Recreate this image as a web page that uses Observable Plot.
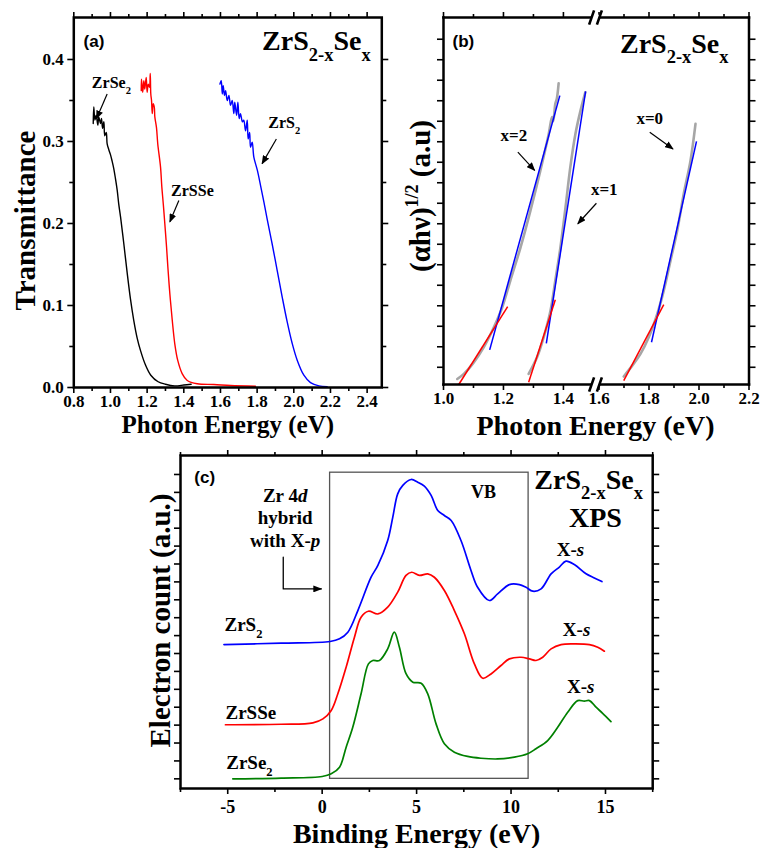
<!DOCTYPE html>
<html><head><meta charset="utf-8">
<script src="https://cdn.jsdelivr.net/npm/d3@7"></script>
<script src="https://cdn.jsdelivr.net/npm/@observablehq/plot@0.6"></script>
<style>
body{margin:0;background:#fff;}
#wrap{position:relative;width:760px;height:848px;overflow:hidden;background:#fff;}
#wrap svg{position:absolute;overflow:visible;}
#wrap svg text, #wrap svg tspan{font-family:"Liberation Serif","Times New Roman",serif !important;font-weight:bold !important;}
#wrap svg .sanslbl text{font-family:"Liberation Sans",Arial,sans-serif !important;}
</style></head><body><div id="wrap"></div>
<script>
// ---------- Panel (a): transmittance ----------
const aSe2E = [0.906,0.909,0.915,0.922,0.931,0.936,0.946,0.951,0.957,0.964,0.969,0.977,0.982,0.991,1.000,1.009,1.018,1.027,1.037,1.045,1.055,1.073,1.091,1.109,1.127,1.146,1.164,1.19,1.22,1.26,1.3,1.35,1.4,1.44];
const aSe2T = [0.322,0.342,0.326,0.332,0.320,0.330,0.322,0.328,0.316,0.324,0.307,0.311,0.297,0.290,0.284,0.276,0.267,0.255,0.240,0.224,0.208,0.175,0.14,0.108,0.082,0.06,0.045,0.028,0.015,0.007,0.004,0.002,0.003,0.004];
const aSSeE = [1.168,1.169,1.176,1.182,1.187,1.195,1.200,1.206,1.213,1.217,1.220,1.224,1.228,1.233,1.239,1.242,1.251,1.258,1.273,1.280,1.288,1.295,1.306,1.313,1.324,1.337,1.351,1.367,1.391,1.419,1.473,1.564,1.655,1.791];
const aSSeT = [0.362,0.376,0.360,0.374,0.364,0.378,0.360,0.370,0.366,0.383,0.358,0.350,0.334,0.346,0.342,0.330,0.317,0.297,0.269,0.245,0.224,0.204,0.171,0.147,0.114,0.082,0.053,0.033,0.017,0.0085,0.0045,0.0037,0.0024,0.0016];
const aS2E = [1.597,1.604,1.610,1.615,1.622,1.628,1.637,1.646,1.655,1.664,1.673,1.678,1.688,1.695,1.702,1.709,1.720,1.727,1.737,1.746,1.751,1.759,1.764,1.773,1.782,1.801,1.819,1.837,1.855,1.882,1.910,1.937,1.964,1.991,2.019,2.055,2.091,2.137,2.182];
const aS2T = [0.370,0.374,0.358,0.368,0.356,0.362,0.350,0.356,0.344,0.350,0.334,0.348,0.332,0.348,0.328,0.334,0.324,0.326,0.313,0.326,0.303,0.311,0.293,0.299,0.281,0.265,0.246,0.226,0.205,0.175,0.142,0.11,0.08,0.054,0.033,0.015,0.006,0.002,0.001];
const aLabels = ["ZrSe_{2}", "ZrSSe", "ZrS_{2}"];
const aLabelE = [1.005, 1.447, 1.948];
const aLabelT = [0.365, 0.233, 0.316];
const aArrE1 = [0.982, 1.373, 1.905], aArrT1 = [0.358, 0.228, 0.303];
const aArrE2 = [0.924, 1.324, 1.827], aArrT2 = [0.328, 0.202, 0.273];
const aTicksX = [0.8,1.0,1.2,1.4,1.6,1.8,2.0,2.2,2.4];
const aMinorX = [0.9,1.1,1.3,1.5,1.7,1.9,2.1,2.3];
const aTicksY = [0,0.1,0.2,0.3,0.4];
const aMinorY = [0.05,0.15,0.25,0.35];

// ---------- Panel (b): Tauc plots (broken x axis) ----------
const bGray2E = [1.046,1.068,1.101,1.134,1.168,1.196,1.223,1.257,1.29,1.323,1.351,1.362,1.366,1.373,1.378,1.384];
const bGray2U = [-0.57,-0.32,0.24,0.97,1.95,2.93,4.23,5.85,7.64,9.59,11.38,12.2,12.0,12.85,13.1,13.85];
const bGray1E = [1.284,1.312,1.334,1.357,1.373,1.39,1.407,1.423,1.44,1.457,1.473];
const bGray1U = [-0.32,0.49,1.46,2.77,4.23,5.85,7.80,9.76,11.38,12.52,13.41];
const bGray0E = [1.699,1.733,1.766,1.799,1.833,1.859,1.886,1.913,1.939,1.966,1.986];
const bGray0U = [-0.45,0.08,0.65,1.46,2.6,3.74,5.2,6.67,8.46,10.08,11.87];
const bBlueE1 = [1.154,1.343], bBlueU1 = [0.85,1.17];
const bBlueE2 = [1.388,1.474], bBlueU2 = [13.25,13.46];
const bBlue0 = [1.81, 1.22, 1.99, 11.02];
const bRedE1 = [1.051,1.284], bRedU1 = [-0.84,-0.73];
const bRedE2 = [1.214,1.373], bRedU2 = [2.96,3.29];
const bRed0 = [1.699, -0.65, 1.859, 3.06];
const bLabels = ["x=2", "x=1", "x=0"];
const bLabelE = [1.235, 1.621, 1.803], bLabelU = [11.06, 8.38, 11.87];
const bArrE1 = [1.248, 1.510], bArrU1 = [10.49, 8.0];
const bArrE2 = [1.304, 1.448], bArrU2 = [9.6, 7.0];
const bArr0 = [1.803, 11.46, 1.896, 10.65];
const bDomL = [1.0, 1.507], bDomR = [1.586, 2.2], bDomY = [-0.84, 17.06];
const bTicksXL = [1.0,1.2,1.4], bMinorXL = [1.1,1.3];
const bTicksXR = [1.6,1.8,2.0,2.2], bMinorXR = [1.7,1.9,2.1];
const bTicksY = d3.range(0, 17);

// ---------- Panel (c): XPS valence band ----------
const cS2E = [-5.2,-2.17,0.42,0.92,1.36,1.89,2.59,2.95,3.47,3.74,4.0,4.27,4.71,5.06,5.41,5.77,6.12,6.47,6.83,7.35,7.88,8.23,8.85,9.29,9.91,10.44,10.79,11.15,11.59,12.12,12.56,12.91,13.35,13.97,14.41,14.81];
const cS2Y = [7.50,7.58,7.67,7.82,8.19,9.40,11.26,11.92,13.31,14.62,15.92,16.39,16.72,16.57,16.35,15.83,14.99,14.71,14.43,13.31,11.64,10.70,9.96,10.33,10.85,10.85,10.70,10.48,10.61,11.45,11.83,12.16,11.97,11.45,11.22,11.02];
const cSSeE = [-5.12,-2.17,-0.49,0.04,0.48,0.83,1.27,1.71,2.06,2.45,2.95,3.47,4.0,4.44,4.74,5.15,5.59,5.94,6.47,7.0,7.53,8.06,8.5,8.94,9.47,9.91,10.53,10.97,11.32,11.68,12.12,12.65,13.35,14.15,14.59,14.94];
const cSSeY = [3.02,3.05,3.13,3.35,3.82,4.75,6.24,7.91,9.03,9.36,9.21,9.59,10.43,11.36,11.54,11.36,11.45,11.26,10.52,9.40,8.10,6.42,5.62,5.86,6.33,6.70,6.79,6.70,6.61,6.79,7.26,7.50,7.54,7.50,7.35,7.13];
const cSe2E = [-4.73,-2.17,0.0,0.48,0.92,1.27,1.62,2.06,2.45,2.68,3.03,3.47,3.82,4.09,4.44,4.80,5.24,5.59,6.03,6.47,7.0,7.7,8.41,9.29,10.18,10.88,11.32,11.94,12.47,13.0,13.53,13.88,14.15,14.5,14.85,15.29];
const cSe2Y = [0.0,0.04,0.13,0.28,0.65,1.77,2.88,4.75,6.42,6.61,6.61,7.26,8.19,7.35,5.87,5.40,5.34,4.75,3.07,1.96,1.49,1.25,1.15,1.11,1.21,1.40,1.68,2.14,2.88,3.72,4.37,4.34,4.37,4.0,3.66,3.20];
const cSampleLabels = ["ZrS_{2}", "ZrSSe", "ZrSe_{2}"];
const cSampleE = [-5.17, -5.12, -5.08], cSampleY = [8.25, 3.35, 0.56];
const cXsE = [13.15, 13.47, 13.69], cXsY = [12.42, 8.0, 4.82];
const cNoteLines = ["Zr 4*d*", "hybrid", "with X-*p*"];
const cNoteE = -1.96, cNoteY = [15.49, 14.21, 12.94];
const cElbowE = [-2.06, -2.06, -0.05], cElbowY = [12.38, 10.61, 10.61];
const cBoxE = [0.42, 10.93], cBoxY = [0.0, 17.1];
const cTicksX = [-5,0,5,10,15];
const cMinorX = [-7.5,-2.5,2.5,7.5,12.5,17.5];
const cTicksY = d3.range(0, 18);

// ---------- helpers ----------
const serif = "Liberation Serif, Times New Roman, serif";
const sans = "Liberation Sans, Arial, sans-serif";
const tbl = (E, Y) => E.map((e, i) => ({E: e, Y: Y[i]}));
const seg = (E1, Y1, E2, Y2) => E1.map((e, i) => ({x1: e, y1: Y1[i], x2: E2[i], y2: Y2[i]}));
const none = () => "";
const SW = 1.6;
const f1 = d3.format(".1f");

// axis-break glyphs as custom symbols
const slashSymbol = {draw(c, size) { const s = Math.sqrt(size) / 2;
  c.moveTo(-s * 0.9, s); c.lineTo(-s * 0.2, -s); c.moveTo(s * 0.2, s); c.lineTo(s * 0.9, -s); }};
const gapSymbol = {draw(c, size) { const s = Math.sqrt(size) / 2;
  c.moveTo(-s * 0.7, s * 0.4); c.lineTo(-s * 0.3, -s * 0.4); c.lineTo(s * 0.7, -s * 0.4); c.lineTo(s * 0.3, s * 0.4); c.closePath(); }};

function xTicks(major, minor, fmt, fs, pad) {
  return [
    Plot.axisX(major, {anchor: "bottom", tickSize: 6, tickPadding: pad, tickFormat: fmt, fontSize: fs, fontWeight: "bold", fontFamily: serif, strokeWidth: SW, label: null}),
    Plot.axisX(minor, {anchor: "bottom", tickSize: 4, tickFormat: none, strokeWidth: SW, label: null}),
    Plot.axisX(major, {anchor: "top", tickSize: 6, tickFormat: none, strokeWidth: SW, label: null}),
    Plot.axisX(minor, {anchor: "top", tickSize: 4, tickFormat: none, strokeWidth: SW, label: null})
  ];
}
function yTicks(major, minor, fmt, fs, pad, sides = ["left", "right"]) {
  const m = [];
  for (const side of sides) {
    m.push(Plot.axisY(major, {anchor: side, tickSize: 6, tickPadding: pad, tickFormat: side === "left" && fmt ? fmt : none, fontSize: fs, fontWeight: "bold", fontFamily: serif, strokeWidth: SW, label: null}));
    if (minor) m.push(Plot.axisY(minor, {anchor: side, tickSize: 4, tickFormat: none, strokeWidth: SW, label: null}));
  }
  return m;
}
function richify(svg) {
  const ns = "http://www.w3.org/2000/svg";
  svg.querySelectorAll("text").forEach(el => {
    if (el.children.length) return;
    const s = el.textContent;
    if (!/(_\{|\^\{|\*)/.test(s)) return;
    const fs = parseFloat(getComputedStyle(el).fontSize) || 16;
    const parts = s.split(/(_\{[^}]*\}|\^\{[^}]*\}|\*[^*]+\*)/).filter(p => p !== "");
    el.textContent = "";
    let shift = 0;
    for (const p of parts) {
      const t = document.createElementNS(ns, "tspan");
      let target = 0, txt = p, size = null, italic = false;
      if (p.startsWith("_{")) { target = 0.36 * fs; txt = p.slice(2, -1); size = 0.66 * fs; }
      else if (p.startsWith("^{")) { target = -0.42 * fs; txt = p.slice(2, -1); size = 0.62 * fs; }
      else if (p.startsWith("*")) { txt = p.slice(1, -1); italic = true; }
      const dy = target - shift;
      if (Math.abs(dy) > 0.01) t.setAttribute("dy", dy);
      shift = target;
      if (size) t.setAttribute("font-size", size);
      if (italic) t.setAttribute("font-style", "italic");
      t.textContent = txt;
      el.appendChild(t);
    }
  });
}
function arrowheads(svg, id) {
  const ns = "http://www.w3.org/2000/svg";
  const defs = document.createElementNS(ns, "defs");
  defs.innerHTML = `<marker id="${id}" viewBox="0 0 10 8" refX="9" refY="4" markerWidth="9" markerHeight="7" markerUnits="userSpaceOnUse" orient="auto"><path d="M0,0L10,4L0,8z" fill="black"/></marker>`;
  svg.insertBefore(defs, svg.firstChild);
  svg.querySelectorAll(".farrow path, .farrow line").forEach(p => p.setAttribute("marker-end", `url(#${id})`));
}
const bt = (o) => Object.assign({fontWeight: "bold", fontFamily: serif}, o);
const style = {fontFamily: serif, background: "transparent", overflow: "visible"};
const arrowLink = (data) => Plot.link(data, {x1: "x1", y1: "y1", x2: "x2", y2: "y2", stroke: "black", strokeWidth: 1.2, className: "farrow"});

// ---------- Panel (a) ----------
const svgA = Plot.plot({
  width: 384, height: 440,
  marginLeft: 73.3, marginRight: 2.7, marginTop: 17, marginBottom: 53,
  x: {domain: [0.8, 2.48], label: null},
  y: {domain: [0, 0.4512], label: null},
  style,
  marks: [
    ...xTicks(aTicksX, aMinorX, f1, 17, 1),
    ...yTicks(aTicksY, aMinorY, f1, 17, 4),
    Plot.line(tbl(aSe2E, aSe2T), {x: "E", y: "Y", stroke: "black", strokeWidth: 1.4, curve: "catmull-rom"}),
    Plot.line(tbl(aSSeE, aSSeT), {x: "E", y: "Y", stroke: "#ff0000", strokeWidth: 1.4, curve: "catmull-rom"}),
    Plot.line(tbl(aS2E, aS2T), {x: "E", y: "Y", stroke: "#0000ff", strokeWidth: 1.4, curve: "catmull-rom"}),
    arrowLink(seg(aArrE1, aArrT1, aArrE2, aArrT2)),
    Plot.text(aLabels.map((t, i) => ({t, E: aLabelE[i], Y: aLabelT[i]})), bt({x: "E", y: "Y", text: "t", fontSize: 16, lineAnchor: "bottom"})),
    Plot.text(["ZrS_{2-x}Se_{x}"], bt({x: () => 2.419, y: () => 0.411, text: d => d, fontSize: 28, textAnchor: "end", lineAnchor: "bottom"})),
    Plot.text(["(a)"], {x: () => 0.853, y: () => 0.415, text: d => d, fontSize: 17, fontWeight: "bold", fontFamily: sans, textAnchor: "start", lineAnchor: "bottom", className: "sanslbl"}),
    Plot.text(["Photon Energy (eV)"], bt({text: d => d, frameAnchor: "bottom", lineAnchor: "bottom", textAnchor: "middle", dy: 45, fontSize: 25})),
    Plot.text(["Transmittance"], bt({text: d => d, frameAnchor: "left", rotate: -90, textAnchor: "middle", lineAnchor: "middle", dx: -48, dy: 18, fontSize: 29})),
    Plot.frame({strokeWidth: 2.5})
  ]
});

// ---------- Panel (b), left segment ----------
const svgB1 = Plot.plot({
  width: 211, height: 440,
  marginLeft: 59, marginRight: 0, marginTop: 17, marginBottom: 56,
  x: {domain: bDomL, label: null},
  y: {domain: bDomY, label: null},
  style,
  marks: [
    ...xTicks(bTicksXL, bMinorXL, f1, 17, 1),
    ...yTicks(bTicksY, null, null, 17, 4, ["left"]),
    Plot.line(tbl(bGray2E, bGray2U), {x: "E", y: "Y", stroke: "#a6a6a6", strokeWidth: 2.6, curve: "catmull-rom"}),
    Plot.line(tbl(bGray1E, bGray1U), {x: "E", y: "Y", stroke: "#a6a6a6", strokeWidth: 2.6, curve: "catmull-rom"}),
    Plot.link(seg(bBlueE1, bBlueU1, bBlueE2, bBlueU2), {x1: "x1", y1: "y1", x2: "x2", y2: "y2", stroke: "#0000ff", strokeWidth: 1.5}),
    Plot.link(seg(bRedE1, bRedU1, bRedE2, bRedU2), {x1: "x1", y1: "y1", x2: "x2", y2: "y2", stroke: "#ff0000", strokeWidth: 1.5}),
    arrowLink(seg(bArrE1, bArrU1, bArrE2, bArrU2)),
    Plot.text([{t: bLabels[0], E: bLabelE[0], Y: bLabelU[0]}], bt({x: "E", y: "Y", text: "t", fontSize: 17, lineAnchor: "bottom"})),
    Plot.text(["(b)"], {x: () => 1.03, y: () => 15.6, text: d => d, fontSize: 17, fontWeight: "bold", fontFamily: sans, textAnchor: "start", lineAnchor: "bottom", className: "sanslbl"}),
    Plot.text(["Photon Energy (eV)"], bt({x: () => bDomL[1], y: () => bDomY[0], text: d => d, lineAnchor: "bottom", textAnchor: "middle", dy: 50, fontSize: 28})),
    Plot.text(["(\u03b1h\u03bd)^{1/2} (a.u)"], bt({text: d => d, frameAnchor: "left", rotate: -90, textAnchor: "middle", lineAnchor: "middle", dx: -23, dy: -5, fontSize: 29})),
    Plot.frame({anchor: "left", strokeWidth: 2.5}),
    Plot.frame({anchor: "top", strokeWidth: 2.5}),
    Plot.frame({anchor: "bottom", strokeWidth: 2.5})
  ]
});

// ---------- Panel (b), right segment ----------
const svgB2 = Plot.plot({
  width: 165, height: 440,
  marginLeft: 0, marginRight: 11.5, marginTop: 17, marginBottom: 56,
  x: {domain: bDomR, label: null},
  y: {domain: bDomY, label: null},
  style,
  marks: [
    ...xTicks(bTicksXR, bMinorXR, f1, 17, 1),
    ...yTicks(bTicksY, null, null, 17, 4, ["right"]),
    Plot.line(tbl(bGray0E, bGray0U), {x: "E", y: "Y", stroke: "#a6a6a6", strokeWidth: 2.6, curve: "catmull-rom"}),
    Plot.link([{x1: bBlue0[0], y1: bBlue0[1], x2: bBlue0[2], y2: bBlue0[3]}], {x1: "x1", y1: "y1", x2: "x2", y2: "y2", stroke: "#0000ff", strokeWidth: 1.5}),
    Plot.link([{x1: bRed0[0], y1: bRed0[1], x2: bRed0[2], y2: bRed0[3]}], {x1: "x1", y1: "y1", x2: "x2", y2: "y2", stroke: "#ff0000", strokeWidth: 1.5}),
    arrowLink([{x1: bArr0[0], y1: bArr0[1], x2: bArr0[2], y2: bArr0[3]}]),
    Plot.text([1, 2].map(i => ({t: bLabels[i], E: bLabelE[i], Y: bLabelU[i]})), bt({x: "E", y: "Y", text: "t", fontSize: 17, lineAnchor: "bottom"})),
    Plot.text(["ZrS_{2-x}Se_{x}"], bt({x: () => 2.118, y: () => 15.35, text: d => d, fontSize: 28, textAnchor: "end", lineAnchor: "bottom"})),
    Plot.frame({anchor: "right", strokeWidth: 2.5}),
    Plot.frame({anchor: "top", strokeWidth: 2.5}),
    Plot.frame({anchor: "bottom", strokeWidth: 2.5}),
    Plot.dot([bDomY[1], bDomY[0]], {x: () => bDomR[0], y: d => d, symbol: gapSymbol, r: 8, fill: "white", stroke: "none"}),
    Plot.dot([bDomY[1], bDomY[0]], {x: () => bDomR[0], y: d => d, symbol: slashSymbol, r: 8, fill: "none", stroke: "black", strokeWidth: 2.6})
  ]
});

// ---------- Panel (c) ----------
const svgC = Plot.plot({
  width: 760, height: 408,
  marginLeft: 180, marginRight: 107.8, marginTop: 15, marginBottom: 60,
  x: {domain: [-7.5, 17.5], label: null},
  y: {domain: [-0.54, 18.06], label: null},
  style,
  marks: [
    ...xTicks(cTicksX, cMinorX, d => String(d), 18, 6),
    ...yTicks(cTicksY, null, null, 17, 4),
    Plot.rect([{x1: cBoxE[0], x2: cBoxE[1], y1: cBoxY[0], y2: cBoxY[1]}], {x1: "x1", x2: "x2", y1: "y1", y2: "y2", fill: "none", stroke: "#555", strokeWidth: 1.3}),
    Plot.line(tbl(cS2E, cS2Y), {x: "E", y: "Y", stroke: "#0000ff", strokeWidth: 1.7, curve: "catmull-rom"}),
    Plot.line(tbl(cSSeE, cSSeY), {x: "E", y: "Y", stroke: "#ff0000", strokeWidth: 1.7, curve: "catmull-rom"}),
    Plot.line(tbl(cSe2E, cSe2Y), {x: "E", y: "Y", stroke: "#008000", strokeWidth: 1.7, curve: "catmull-rom"}),
    Plot.line(tbl(cElbowE, cElbowY), {x: "E", y: "Y", stroke: "black", strokeWidth: 1.3, className: "farrow"}),
    Plot.text(cSampleLabels.map((t, i) => ({t, E: cSampleE[i], Y: cSampleY[i]})), bt({x: "E", y: "Y", text: "t", fontSize: 19, textAnchor: "start", lineAnchor: "bottom"})),
    Plot.text(cXsE.map((e, i) => ({E: e, Y: cXsY[i]})), bt({x: "E", y: "Y", text: () => "X-*s*", fontSize: 19, lineAnchor: "bottom"})),
    Plot.text(cNoteLines.map((t, i) => ({t, E: cNoteE, Y: cNoteY[i]})), bt({x: "E", y: "Y", text: "t", fontSize: 19, lineAnchor: "bottom"})),
    Plot.text(["VB"], bt({x: () => 8.54, y: () => 15.66, text: d => d, fontSize: 18, lineAnchor: "bottom"})),
    Plot.text(["ZrS_{2-x}Se_{x}"], bt({x: () => 16.98, y: () => 16.2, text: d => d, fontSize: 28, textAnchor: "end", lineAnchor: "bottom"})),
    Plot.text(["XPS"], bt({x: () => 14.47, y: () => 14.06, text: d => d, fontSize: 28, lineAnchor: "bottom"})),
    Plot.text(["(c)"], {x: () => -6.77, y: () => 16.55, text: d => d, fontSize: 17, fontWeight: "bold", fontFamily: sans, textAnchor: "start", lineAnchor: "bottom", className: "sanslbl"}),
    Plot.text(["Binding Energy (eV)"], bt({text: d => d, frameAnchor: "bottom", lineAnchor: "bottom", textAnchor: "middle", dy: 54, fontSize: 28})),
    Plot.text(["Electron count (a.u.)"], bt({text: d => d, frameAnchor: "left", rotate: -90, textAnchor: "middle", lineAnchor: "middle", dx: -20, dy: -1.5, fontSize: 29})),
    Plot.frame({strokeWidth: 2.5})
  ]
});

const wrap = document.getElementById("wrap");
[[svgA, 0, 0, "triA"], [svgB1, 384, 0, "triB1"], [svgB2, 595, 0, "triB2"], [svgC, 0, 440, "triC"]].forEach(([s, l, t, id]) => {
  s.style.left = l + "px";
  s.style.top = t + "px";
  s.style.maxWidth = "none";
  wrap.appendChild(s);
  richify(s);
  arrowheads(s, id);
});
</script>
</body></html>
